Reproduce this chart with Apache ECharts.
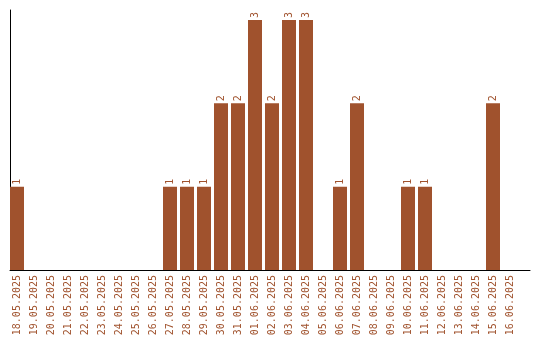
<!DOCTYPE html>
<html><head><meta charset="utf-8">
<script src="https://cdn.jsdelivr.net/npm/echarts@6/dist/echarts.min.js"></script>
<style>html,body{margin:0;padding:0;background:#fff}#c{width:540px;height:340px}</style>
</head><body><div id="c"></div>
<script>
var categories = ["18.05.2025","19.05.2025","20.05.2025","21.05.2025","22.05.2025","23.05.2025","24.05.2025","25.05.2025","26.05.2025","27.05.2025","28.05.2025","29.05.2025","30.05.2025","31.05.2025","01.06.2025","02.06.2025","03.06.2025","04.06.2025","05.06.2025","06.06.2025","07.06.2025","08.06.2025","09.06.2025","10.06.2025","11.06.2025","12.06.2025","13.06.2025","14.06.2025","15.06.2025","16.06.2025"];
var counts = [1,0,0,0,0,0,0,0,0,1,1,1,2,2,3,2,3,3,0,1,2,0,0,1,1,0,0,0,2,0];
var yMax = 3.12;
var color = '#A0522D';
var font = 'DejaVu Sans Mono';
var chart = echarts.init(document.getElementById('c'), null, {renderer:'canvas'});
chart.setOption({
  animation: false,
  grid: [
    {left: 8.5, width: 510, top: 10, bottom: 70},
    {left: 10, right: 10, top: 10, bottom: 70}
  ],
  xAxis: [
    {type:'category', gridIndex:0, data: categories, boundaryGap:true,
     axisLine:{show:false}, axisTick:{show:false},
     axisLabel:{rotate:90, color: color, fontFamily: font, fontSize: 10, margin: 5, interval: 0}},
    {type:'value', gridIndex:1, min:0, max:1, axisLine:{show:true, lineStyle:{color:'#000', width:1}},
     axisTick:{show:false}, axisLabel:{show:false}, splitLine:{show:false}}
  ],
  yAxis: [
    {type:'value', gridIndex:0, min:0, max:yMax, show:false},
    {type:'value', gridIndex:1, min:0, max:yMax, axisLine:{show:true, lineStyle:{color:'#000', width:1}},
     axisTick:{show:false}, axisLabel:{show:false}, splitLine:{show:false}}
  ],
  series: [{
    type:'bar', xAxisIndex:0, yAxisIndex:0, data: counts, barWidth: 14,
    itemStyle:{color: color},
    label:{show:true, position:'top', rotate:90, distance:2, color: color, fontFamily: font, fontSize: 10,
      align:'left', verticalAlign:'middle',
      formatter: function(p){ return p.value > 0 ? String(p.value) : ''; }}
  }]
});
</script></body></html>
